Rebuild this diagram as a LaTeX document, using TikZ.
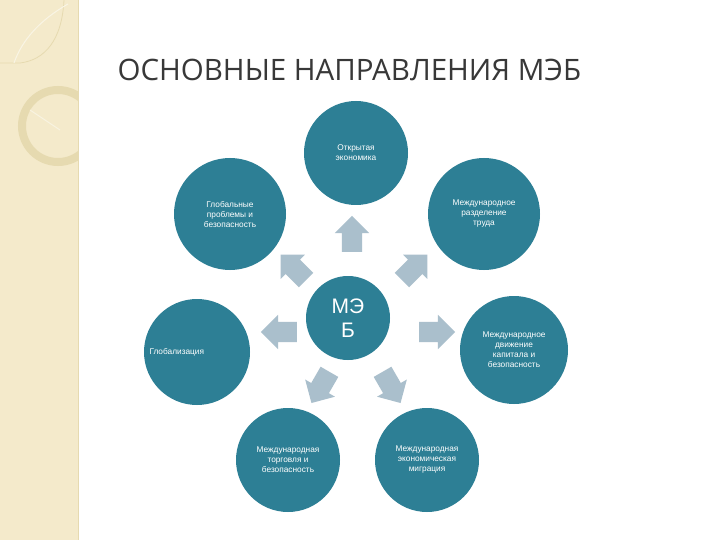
\documentclass[tikz,border=0pt]{standalone}
\usepackage{fontspec}
\setmainfont{Liberation Sans}
\newfontfamily\titlefont{Open Sans}
\usetikzlibrary{shapes.arrows}
\definecolor{teal1}{HTML}{2D7F95}
\definecolor{arr}{HTML}{AABFCC}
\definecolor{beige}{HTML}{F4EACB}
\definecolor{beige2}{HTML}{E6DAB0}
\begin{document}
\begin{tikzpicture}[x=1pt,y=-1pt,
  circ/.style={circle,fill=teal1,inner sep=0pt,text=white,align=center,font=\fontsize{8.3}{10}\selectfont},
  bigarr/.style={single arrow,fill=arr,minimum height=36pt,inner xsep=0pt,inner ysep=10pt,single arrow head extend=7pt}]
\useasboundingbox (0,0) rectangle (720,540);
\fill[white] (0,0) rectangle (720,540);
% left strip
\fill[beige] (0,0) rectangle (78,540);
\draw[beige2,line width=0.8pt] (78,0) -- (78,540);
\begin{scope}
\clip (0,0) rectangle (78,540);
\draw[beige2,line width=0.8pt] (0,63) -- (20,63) .. controls (45,60) and (62,40) .. (64,0);
\draw[white!50!beige,line width=1pt] (14,63) .. controls (22,40) and (40,20) .. (68,4);
\draw[beige2,line width=8pt] (58,126) circle (36);
\draw[white!40!beige,line width=1pt] (30,110) -- (60,130);
\end{scope}
% title
\node[font=\titlefont\fontsize{29.5}{32}\selectfont,text=black!78,anchor=west] (title) at (114,70) {ОСНОВНЫЕ НАПРАВЛЕНИЯ МЭБ};
% circles
\node[circ,minimum size=104pt] (top) at (356,153) {Открытая\\экономика};
\node[circ,minimum size=112pt] (tl) at (230,214) {Глобальные\\проблемы и\\безопасность};
\node[circ,minimum size=112pt] (tr) at (484,214) {Международное\\разделение\\труда};
\node[circ,minimum size=106pt] (l) at (197,352) {};
\node[font=\fontsize{8.3}{10}\selectfont,text=white,anchor=west] (ltext) at (146,352) {Глобализация};
\node[circ,minimum size=108pt] (r) at (514,350) {Международное\\движение\\капитала и\\безопасность};
\node[circ,minimum size=104pt] (bl) at (288,460) {Международная\\торговля и\\безопасность};
\node[circ,minimum size=104pt] (br) at (427,460) {Международная\\экономическая\\миграция};
\node[circ,minimum size=84pt,font=\fontsize{21}{24}\selectfont] (c) at (348,318) {МЭ\\Б};
% arrows
\node[bigarr,rotate=90] (a1) at (352,239) {};
\node[bigarr,rotate=135] (a2) at (297,271) {};
\node[bigarr,rotate=45] (a3) at (411,271) {};
\node[bigarr,rotate=180] (a4) at (284,332) {};
\node[bigarr,rotate=0] (a5) at (432,332) {};
\node[bigarr,rotate=-120] (a6) at (323,383) {};
\node[bigarr,rotate=-60] (a7) at (389,383) {};
\end{tikzpicture}
\end{document}
